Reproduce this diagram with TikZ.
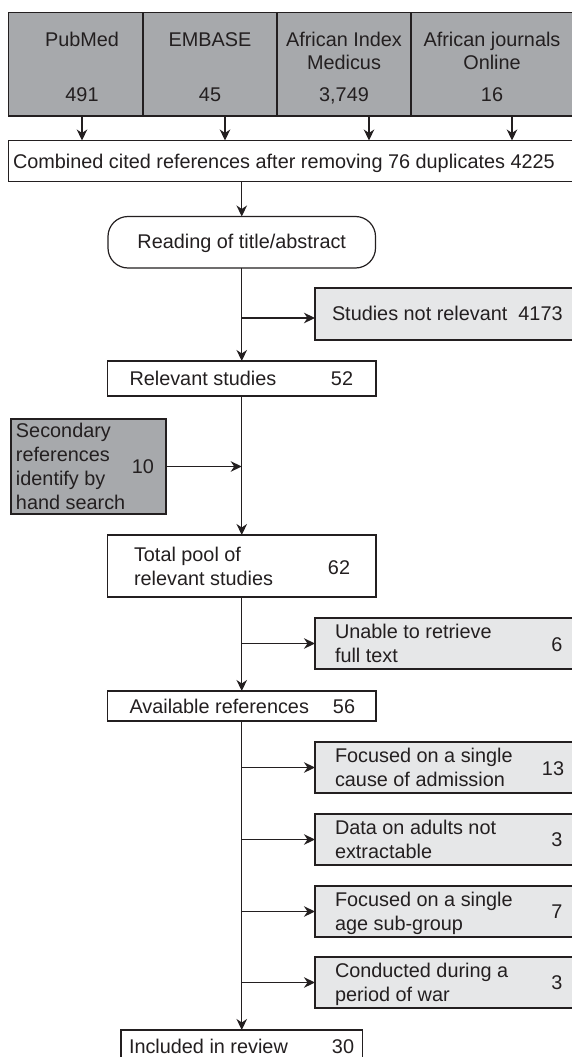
\documentclass[tikz,border=0pt]{standalone}
\usepackage{fontspec}
\setmainfont{Liberation Sans}
\usetikzlibrary{arrows.meta}
\definecolor{ink}{HTML}{231F20}
\definecolor{dgray}{HTML}{A7A9AC}
\definecolor{lgray}{HTML}{E6E7E8}
\begin{document}
\begin{tikzpicture}[x=1pt,y=-1pt,
  every node/.style={inner sep=0pt,outer sep=0pt,text=ink,font=\fontsize{19.85}{23.5}\selectfont},
  box/.style={draw=ink,line width=1.2pt,fill=white,rectangle},
  darkbox/.style={box,fill=dgray},
  lightbox/.style={box,fill=lgray},
  lbl/.style={anchor=base west},
  ctr/.style={anchor=base},
  arr/.style={draw=ink,line width=1.2pt,-{Stealth[length=11pt,width=10.5pt,inset=3.5pt]}}]
\useasboundingbox (0,0) rectangle (572,1057);
\clip (0,0) rectangle (572,1057);
% top row
\node[darkbox,minimum width=134.5pt,minimum height=103.5pt] (pub) at (75.75,64.25) {};
\node[darkbox,minimum width=134pt,minimum height=103.5pt] (emb) at (210,64.25) {};
\node[darkbox,minimum width=134pt,minimum height=103.5pt] (aim) at (344,64.25) {};
\node[darkbox,minimum width=189pt,minimum height=103.5pt] (ajo) at (505.5,64.25) {};
\node[ctr] (tpub) at (82,47) {PubMed};
\node[ctr] (npub) at (82,101) {491};
\node[ctr] (temb) at (210,47) {EMBASE};
\node[ctr] (nemb) at (210,101) {45};
\node[ctr] (taim) at (344,47) {African Index};
\node[ctr] (taimb) at (344,70) {Medicus};
\node[ctr] (naim) at (344,101) {3,749};
\node[ctr] (tajo) at (492,47) {African journals};
\node[ctr] (tajob) at (492,70) {Online};
\node[ctr] (najo) at (492,101) {16};
% combined
\node[box,minimum width=591.5pt,minimum height=41pt] (comb) at (304.25,161) {};
\node[lbl] (tcomb) at (13,168.5) {Combined cited references after removing 76 duplicates 4225};
% reading
\node[box,rounded corners=20pt,minimum width=267.5pt,minimum height=51.5pt] (reading) at (241.75,242.25) {};
\node[ctr] (tread) at (241.75,248.5) {Reading of title/abstract};
% not relevant
\node[lightbox,minimum width=285pt,minimum height=52pt] (notrel) at (457.5,314) {};
\node[lbl] (tnotrel) at (332,320.7) {Studies not relevant\ \ 4173};
% relevant
\node[box,minimum width=268.5pt,minimum height=35pt] (relevant) at (241.75,378.5) {};
\node[lbl] (trel) at (129.5,385) {Relevant studies};
\node[ctr] (nrel) at (342,385) {52};
% secondary
\node[darkbox,minimum width=155pt,minimum height=95pt] (sec) at (88.5,466.5) {};
\node[lbl] (tsec1) at (16,437) {Secondary};
\node[lbl] (tsec2) at (16,461) {references};
\node[lbl] (tsec3) at (16,485) {identify by};
\node[lbl] (tsec4) at (16,509) {hand search};
\node[ctr] (nsec) at (143,473.3) {10};
% total pool
\node[box,minimum width=268.5pt,minimum height=62pt] (total) at (241.75,566) {};
\node[lbl] (ttot1) at (134,561.7) {Total pool of};
\node[lbl] (ttot2) at (134,585.7) {relevant studies};
\node[ctr] (ntot) at (339,574) {62};
% unable
\node[lightbox,minimum width=285pt,minimum height=51pt] (unable) at (457.5,643.5) {};
\node[lbl] (tun1) at (335,638.3) {Unable to retrieve};
\node[lbl] (tun2) at (335,662.3) {full text};
\node[ctr] (nun) at (557,651.7) {6};
% available
\node[box,minimum width=268.5pt,minimum height=30pt] (avail) at (241.75,706) {};
\node[lbl] (tav) at (129.5,713.3) {Available references};
\node[ctr] (nav) at (344,713.3) {56};
% exclusions
\node[lightbox,minimum width=285pt,minimum height=51pt] (fa) at (457.5,767.5) {};
\node[lbl] (tfa1) at (335,762) {Focused on a single};
\node[lbl] (tfa2) at (335,786) {cause of admission};
\node[ctr] (nfa) at (553,775) {13};
\node[lightbox,minimum width=285pt,minimum height=51pt] (fb) at (457.5,839.5) {};
\node[lbl] (tfb1) at (335,834.3) {Data on adults not};
\node[lbl] (tfb2) at (335,858.3) {extractable};
\node[ctr] (nfb) at (557,846.7) {3};
\node[lightbox,minimum width=285pt,minimum height=51pt] (fc) at (457.5,911.5) {};
\node[lbl] (tfc1) at (335,906) {Focused on a single};
\node[lbl] (tfc2) at (335,930) {age sub-group};
\node[ctr] (nfc) at (557,918.3) {7};
\node[lightbox,minimum width=285pt,minimum height=51pt] (fd) at (457.5,982.5) {};
\node[lbl] (tfd1) at (335,977.3) {Conducted during a};
\node[lbl] (tfd2) at (335,1001) {period of war};
\node[ctr] (nfd) at (557,989.3) {3};
% included
\node[box,minimum width=241.5pt,minimum height=60pt] (incl) at (241.75,1060) {};
\node[lbl] (tinc) at (129,1053.3) {Included in review};
\node[ctr] (ninc) at (343,1053.3) {30};
% connectors
\coordinate (a1) at (82,116);
\coordinate (a2) at (225,116);
\coordinate (a3) at (369,116);
\coordinate (a4) at (512,116);
\foreach \c in {a1,a2,a3,a4} \draw[arr] (\c) -- (\c |- comb.north);
\draw[arr] (reading.north |- comb.south) -- (reading.north);
\draw[arr] (reading.south) -- (relevant.north);
\coordinate (nrin) at ([yshift=-4pt]notrel.west);
\draw[arr] (reading.south |- nrin) -- (nrin);
\draw[arr] (relevant.south) -- (total.north);
\draw[arr] (sec.east) -- (sec.east -| relevant.south);
\draw[arr] (total.south) -- (avail.north);
\draw[arr] (total.south |- unable.west) -- (unable.west);
\draw[arr] (avail.south) -- (incl.north);
\foreach \f in {fa,fb,fc,fd} \draw[arr] (avail.south |- \f.west) -- (\f.west);
\end{tikzpicture}
\end{document}
